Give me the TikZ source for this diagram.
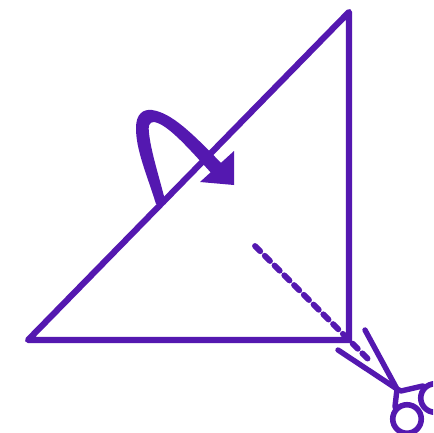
\documentclass[tikz,border=0pt]{standalone}
\usepackage{xcolor}
\usetikzlibrary{positioning, calc}
\definecolor{FoldPurple}{RGB}{84, 24, 176}
\tikzset{
  foldedge/.style={draw=FoldPurple, line width=6.2pt, line join=round, line cap=round},
  cutline/.style={draw=FoldPurple, line width=5.8pt, line cap=round, dash pattern=on 7.4pt off 6.4pt},
  bladeline/.style={draw=FoldPurple, line width=5.4pt, line cap=round, line join=round},
  fingerring/.style={circle, draw=FoldPurple, line width=5.6pt, fill=none, minimum size=28.5pt, inner sep=0pt}
}
\begin{document}
\begin{tikzpicture}[x=1pt, y=-1pt]
    \clip (0,0) rectangle (433,433);
    \fill[white] (0,0) rectangle (433,433);

    % paper triangle
    \coordinate (cornerleft) at (28,340);
    \coordinate (cornerright) at (349,340);
    \coordinate (cornertop) at (349,12);
    \draw[foldedge] (cornerleft) -- (cornerright) -- (cornertop) -- cycle;

    % fold arrow, thicker towards the top
    \fill[FoldPurple] (156,204)
      .. controls (146,172) and (136,150) .. (136,128)
      .. controls (136,114) and (143,109) .. (152,110)
      .. controls (172,113) and (192,133) .. (224,166)
      -- (214,176)
      .. controls (190,150) and (168,124) .. (154,122)
      .. controls (149,122) and (148,126) .. (149,133)
      .. controls (151,152) and (159,176) .. (166,204) -- cycle;
    \fill[FoldPurple] (234,151) -- (234,185) -- (200,182) -- cycle;

    % cut line
    \coordinate (cutstart) at (255,246);
    \coordinate (cutend) at (369,360);
    \draw[cutline] (cutstart) -- (cutend);

    % scissors
    \coordinate (pivot) at (397,389);
    \node[fingerring] (ringlow) at (407,419) {};
    \node[fingerring] (ringhigh) at (435,398) {};
    \draw[bladeline] (365,330) -- (pivot) -- (401,391) -- (ringhigh.north west);
    \draw[bladeline] (338,350) -- (pivot) -- (ringlow.north west);
\end{tikzpicture}
\end{document}
